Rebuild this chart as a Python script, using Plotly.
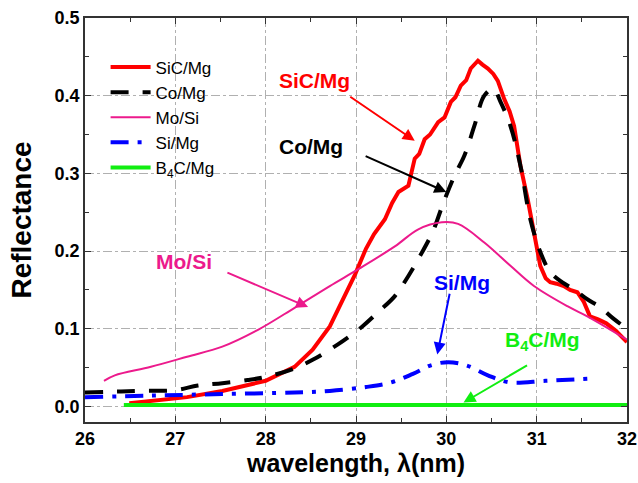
import plotly.graph_objects as go

FONT = "Liberation Sans, Arial, Helvetica, sans-serif"

# SiC/Mg
sic_x = [26.49, 26.8, 27.13, 27.52, 28.0, 28.32, 28.52, 28.71, 28.87, 28.99, 29.11, 29.20, 29.32, 29.40,
         29.47, 29.52, 29.58, 29.65, 29.70, 29.76, 29.82, 29.91, 29.98, 30.05, 30.10, 30.16, 30.22, 30.27,
         30.35, 30.40, 30.46, 30.52, 30.57, 30.64, 30.70, 30.75, 30.82, 30.90, 30.97, 31.04, 31.10, 31.15,
         31.22, 31.30, 31.37, 31.45, 31.52, 31.59, 31.68, 31.77, 31.88, 32.0]
sic_y = [0.004, 0.008, 0.012, 0.020, 0.033, 0.051, 0.073, 0.103, 0.142, 0.170, 0.203, 0.222, 0.241, 0.262,
         0.276, 0.280, 0.284, 0.319, 0.325, 0.344, 0.350, 0.366, 0.372, 0.392, 0.398, 0.413, 0.420, 0.435,
         0.445, 0.440, 0.435, 0.428, 0.419, 0.396, 0.380, 0.361, 0.310, 0.267, 0.224, 0.181, 0.165, 0.160,
         0.158, 0.155, 0.150, 0.147, 0.135, 0.116, 0.112, 0.107, 0.097, 0.083]

# Co/Mg
co_x = [26.0, 26.3, 26.6, 27.0, 27.25, 27.52, 27.8, 28.0, 28.3, 28.52, 28.8, 29.07, 29.25, 29.43, 29.58,
        29.71, 29.85, 29.97, 30.09, 30.20, 30.31, 30.42, 30.52, 30.60, 30.71, 30.82, 30.93, 31.04, 31.15,
        31.28, 31.41, 31.56, 31.70, 31.85, 32.0]
co_y = [0.018, 0.019, 0.020, 0.021, 0.027, 0.030, 0.034, 0.038, 0.048, 0.060, 0.080, 0.103, 0.122, 0.142,
        0.168, 0.194, 0.225, 0.263, 0.297, 0.323, 0.361, 0.400, 0.409, 0.392, 0.361, 0.310, 0.241, 0.199,
        0.173, 0.160, 0.151, 0.138, 0.128, 0.113, 0.100]

# Mo/Si
mo_x = [26.21, 26.33, 26.73, 27.13, 27.52, 27.92, 28.32, 28.71, 29.03, 29.43, 29.69, 29.95, 30.13, 30.42,
        30.71, 30.97, 31.34, 31.56, 31.8, 32.0]
mo_y = [0.033, 0.040, 0.051, 0.064, 0.077, 0.099, 0.127, 0.155, 0.177, 0.206, 0.228, 0.237, 0.235, 0.211,
        0.181, 0.155, 0.129, 0.116, 0.100, 0.086]

# Si/Mg
si_x = [26.0, 26.73, 27.52, 28.32, 28.71, 29.11, 29.39, 29.63, 29.83, 30.02, 30.22, 30.46, 30.70, 31.10, 31.61]
si_y = [0.012, 0.014, 0.016, 0.018, 0.020, 0.025, 0.031, 0.042, 0.053, 0.057, 0.053, 0.040, 0.031, 0.033, 0.036]

# B4C/Mg
b4c_x = [26.43, 27.5, 28.5, 29.5, 30.0, 30.5, 31.5, 32.0]
b4c_y = [0.002, 0.002, 0.002, 0.003, 0.003, 0.003, 0.002, 0.002]

x_ticks = [26, 27, 28, 29, 30, 31, 32]
y_ticks = [0.0, 0.1, 0.2, 0.3, 0.4, 0.5]
y_tick_labels = ["0.0", "0.1", "0.2", "0.3", "0.4", "0.5"]

RED, BLACK, PINK, BLUE, GREEN = "#ff0000", "#000000", "#ec1a8c", "#0000ff", "#11ee11"

fig = go.Figure()
fig.add_trace(go.Scatter(x=sic_x, y=sic_y, mode="lines", name="SiC/Mg",
                         line=dict(color=RED, width=4)))
fig.add_trace(go.Scatter(x=co_x, y=co_y, mode="lines", name="Co/Mg",
                         line=dict(color=BLACK, width=4, dash="18px,14px", shape="spline")))
fig.add_trace(go.Scatter(x=mo_x, y=mo_y, mode="lines", name="Mo/Si",
                         line=dict(color=PINK, width=2, shape="spline")))
fig.add_trace(go.Scatter(x=si_x, y=si_y, mode="lines", name="Si/Mg",
                         line=dict(color=BLUE, width=4, dash="18px,9px,4px,9px", shape="spline")))
fig.add_trace(go.Scatter(x=b4c_x, y=b4c_y, mode="lines", name="B<sub>4</sub>C/Mg",
                         line=dict(color=GREEN, width=4)))

labels = [
    ("SiC/Mg", 28.54, 0.42, RED),
    ("Co/Mg", 28.50, 0.335, BLACK),
    ("Mo/Si", 27.10, 0.186, PINK),
    ("Si/Mg", 30.17, 0.159, BLUE),
    ("B<sub>4</sub>C/Mg", 31.06, 0.084, GREEN),
]
arrows = [
    (28.92, 0.400, 29.65, 0.342, RED),
    (29.09, 0.323, 30.00, 0.276, BLACK),
    (27.56, 0.173, 28.47, 0.128, PINK),
    (30.04, 0.147, 29.90, 0.067, BLUE),
    (30.91, 0.054, 30.19, 0.005, GREEN),
]
for t, x, y, c in labels:
    fig.add_annotation(x=x, y=y, text=t, showarrow=False, xref="x", yref="y",
                       font=dict(family=FONT, size=21, color=c, weight="bold"))
for x0, y0, x1, y1, c in arrows:
    fig.add_annotation(x=x1, y=y1, ax=x0, ay=y0, xref="x", yref="y", axref="x", ayref="y",
                       text="", showarrow=True, arrowhead=2, arrowsize=1.2, arrowwidth=2,
                       arrowcolor=c)

axis_common = dict(showline=True, linecolor="#333333", linewidth=1.5, mirror="allticks",
                   ticks="inside", ticklen=6, tickwidth=1, tickcolor="#333333",
                   showgrid=True, gridcolor="#b0b0b0", gridwidth=1, griddash="dashdot",
                   zeroline=False, automargin=False,
                   tickfont=dict(family=FONT, size=18, color="black", weight="bold"))

fig.update_xaxes(range=[26, 32], tickvals=x_ticks, ticktext=[str(v) for v in x_ticks],
                 minor=dict(ticks="inside", ticklen=4, dtick=0.5, tick0=26, tickcolor="#333333", showgrid=False),
                 title=dict(text="wavelength, λ(nm)", standoff=4,
                            font=dict(family=FONT, size=25, color="black", weight="bold")),
                 **axis_common)
fig.update_yaxes(range=[-0.02, 0.5], tickvals=y_ticks, ticktext=y_tick_labels,
                 minor=dict(ticks="inside", ticklen=4, dtick=0.05, tick0=0, tickcolor="#333333", showgrid=False),
                 title=dict(text="Reflectance", standoff=15,
                            font=dict(family=FONT, size=28, color="black", weight="bold")),
                 **axis_common)

fig.update_layout(
    width=638, height=483,
    margin=dict(l=85, r=11, t=18, b=61, autoexpand=False),
    paper_bgcolor="white", plot_bgcolor="white",
    showlegend=True,
    legend=dict(x=0.038, y=0.922, xanchor="left", yanchor="top", bgcolor="rgba(0,0,0,0)",
                font=dict(family=FONT, size=17, color="black"), tracegroupgap=0,
                itemwidth=40),
)

fig.write_html("out.html", config={"displayModeBar": False},
               post_script="document.body.style.margin='0';document.body.style.overflow='hidden';")
